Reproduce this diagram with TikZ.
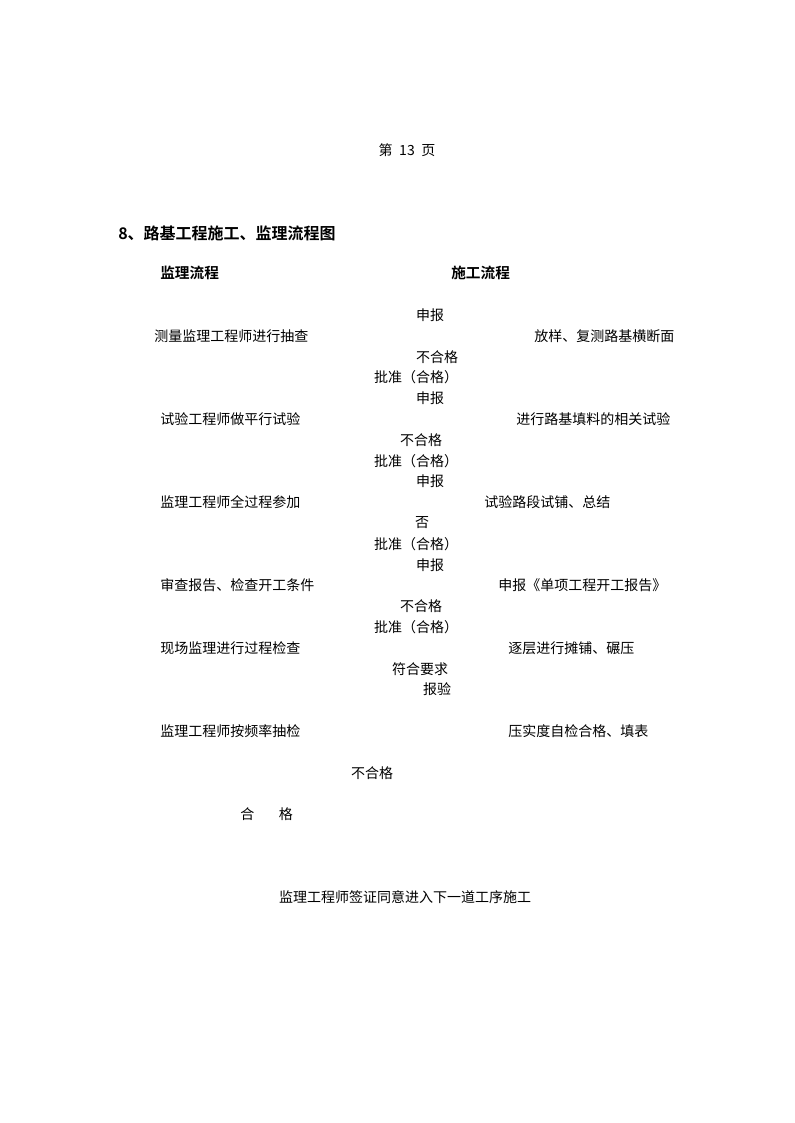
\documentclass[tikz,border=0pt]{standalone}
\usepackage{fontspec}
\setmainfont{Noto Sans CJK SC}
\newfontfamily\cjkbold{Noto Sans CJK SC Bold}
\usepackage{tikz}

\begin{document}
\begin{tikzpicture}[x=0.75pt,y=-0.75pt,
        txt/.style={inner sep=0pt,anchor=west,font=\fontsize{10.5pt}{12pt}\selectfont},
        mid/.style={inner sep=0pt,font=\fontsize{10.5pt}{12pt}\selectfont},
        head/.style={inner sep=0pt,anchor=west,font=\fontsize{11pt}{13pt}\cjkbold},
        caption/.style={inner sep=0pt,anchor=west,font=\fontsize{12pt}{14pt}\cjkbold}]

        \useasboundingbox (0,0) rectangle (794,1123);

        % Page number
        \node [mid] (pagenum) at (407,150) {第\hspace{5pt}13\hspace{5pt}页};

        % Title
        \node [caption] (title) at (118,233) {8、路基工程施工、监理流程图};
        \node [head] (jlhead) at (160,273) {监理流程};
        \node [head] (sghead) at (451,273) {施工流程};

        % Survey
        \node [mid] (sb1) at (430,315) {申报};
        \node [txt] (jl1) at (154,336) {测量监理工程师进行抽查};
        \node [txt] (sg1) at (534,336) {放样、复测路基横断面};
        \node [mid] (bh1) at (437,357) {不合格};
        \node [mid] (pz1) at (416,377) {批准（合格）};

        % Fill material test
        \node [mid] (sb2) at (430,398) {申报};
        \node [txt] (jl2) at (160,419) {试验工程师做平行试验};
        \node [txt] (sg2) at (516,419) {进行路基填料的相关试验};
        \node [mid] (bh2) at (421,440) {不合格};
        \node [mid] (pz2) at (416,461) {批准（合格）};

        % Trial section
        \node [mid] (sb3) at (430,481) {申报};
        \node [txt] (jl3) at (160,502) {监理工程师全过程参加};
        \node [txt] (sg3) at (484,502) {试验路段试铺、总结};
        \node [mid] (no3) at (422,523) {否};
        \node [mid] (pz3) at (416,544) {批准（合格）};

        % Start report
        \node [mid] (sb4) at (430,565) {申报};
        \node [txt] (jl4) at (160,585) {审查报告、检查开工条件};
        \node [txt] (sg4) at (498,585) {申报《单项工程开工报告》};
        \node [mid] (bh4) at (421,606) {不合格};
        \node [mid] (pz4) at (416,627) {批准（合格）};

        % Layer work
        \node [txt] (jl5) at (160,648) {现场监理进行过程检查};
        \node [txt] (sg5) at (508,648) {逐层进行摊铺、碾压};
        \node [mid] (ok5) at (420,669) {符合要求};
        \node [mid] (bj5) at (437,689) {报验};

        % Compaction check
        \node [txt] (jl6) at (160,731) {监理工程师按频率抽检};
        \node [txt] (sg6) at (508,731) {压实度自检合格、填表};
        \node [mid] (bh6) at (372,773) {不合格};
        \node [txt] (hg6) at (240,814) {合\hspace{18.5pt}格};

        % Sign off
        \node [mid] (final) at (405,897) {监理工程师签证同意进入下一道工序施工};

    \end{tikzpicture}
\end{document}
